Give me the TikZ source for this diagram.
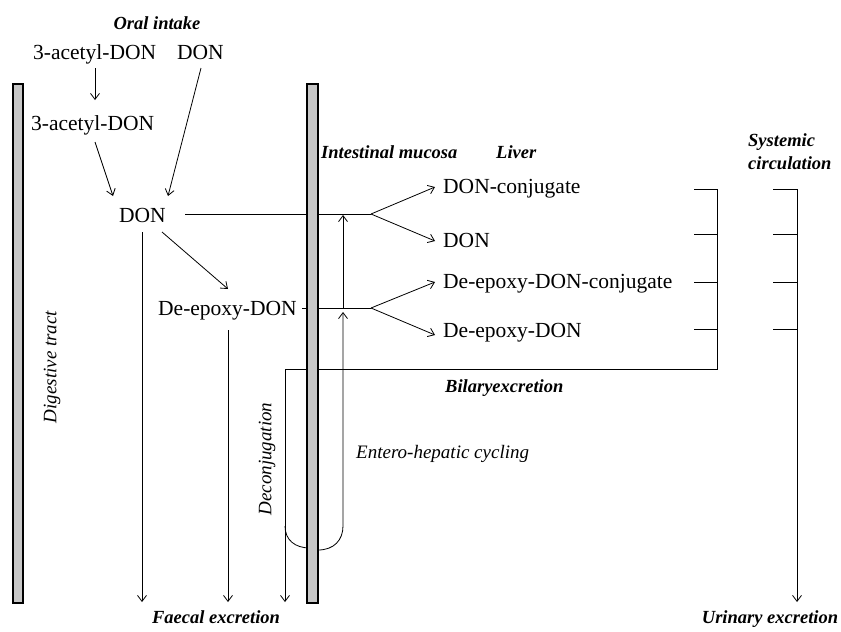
\documentclass[tikz,border=0pt]{standalone}
\usepackage{fontspec}
\setmainfont{Liberation Serif}
\usetikzlibrary{arrows.meta}
\begin{document}
\begin{tikzpicture}[x=1pt,y=-1pt,
  conn/.style={line width=0.8pt},
  arr/.style={conn,-{Straight Barb[length=6pt,width=9pt]}},
  bar/.style={fill=black!22,draw=black,line width=1.8pt},
  chem/.style={inner sep=0pt,font=\fontsize{21.5}{24}\selectfont,text height=14pt,text depth=0pt,anchor=west},
  lab/.style={inner sep=0pt,font=\fontsize{18.5}{21}\selectfont\bfseries\itshape,text height=12.5pt,text depth=0pt},
  ital/.style={inner sep=0pt,font=\fontsize{19}{22}\selectfont\itshape,text height=12.5pt,text depth=0pt}]
\useasboundingbox (0,0) rectangle (841,632);

% text nodes
\node[lab] (oral) at (157,23) {Oral intake};
\node[chem] (acA) at (33,52) {3-acetyl-DON};
\node[chem] (donA) at (177,52) {DON};
\node[chem] (acB) at (31,123) {3-acetyl-DON};
\node[chem] (donB) at (119,215) {DON};
\node[chem] (dep) at (158,308) {De-epoxy-DON};
\node[lab,anchor=west] (mucosa) at (321,152) {Intestinal mucosa};
\node[lab,anchor=west] (liver) at (496,152) {Liver};
\node[lab,anchor=west] (sys1) at (748,140) {Systemic};
\node[lab,anchor=west] (sys2) at (748,163) {circulation};
\node[chem] (donconj) at (443,186) {DON-conjugate};
\node[chem] (don2) at (443,240) {DON};
\node[chem] (depconj) at (443,281) {De-epoxy-DON-conjugate};
\node[chem] (dep2) at (443,330) {De-epoxy-DON};
\node[lab,anchor=west] (bilary) at (445,386) {Bilaryexcretion};
\node[ital,anchor=west] (entero) at (356,452) {Entero-hepatic cycling};
\node[ital,rotate=90] (deconj) at (265,459) {Deconjugation};
\node[ital,rotate=90] (digest) at (50,367) {Digestive tract};
\node[lab] (faecal) at (216,617) {Faecal excretion};
\node[lab] (urinary) at (770,617) {Urinary excretion};

% coordinates
\coordinate (lv1) at (371,214);
\coordinate (lv2) at (371,308);
\coordinate (b1) at (717,189);
\coordinate (b1e) at (717,369);
\coordinate (b2) at (797,189);
\coordinate (bl) at (285,369);
\coordinate (faeA) at (142,602);
\coordinate (faeB) at (228,602);
\coordinate (faeC) at (285,602);
\coordinate (uri) at (797,602);
\coordinate (cyc) at (343,526);
\coordinate (cycL) at (285,526);

% upper arrows
\draw[arr] (95,68) -- (95,100);
\draw[arr] (95,142) -- (113,196);
\draw[arr] (201,68) -- (168,196);
\draw[arr] (162,232) -- (228,289);

% to intestinal mucosa / liver
\draw[conn] (185,214) -- (lv1);
\draw[conn] (302,308) -- (lv2);
\draw[arr] (lv1) -- (435,187);
\draw[arr] (lv1) -- (435,241);
\draw[arr] (lv2) -- (435,282);
\draw[arr] (lv2) -- (435,335);

% entero-hepatic cycle
\draw[arr] (343,308) -- (343,215);
\draw[arr] (318,550) .. controls (334,550) and (343,540) .. (cyc) -- (343,312);
\draw[conn] (cycL) .. controls (285,540) and (295,548) .. (310,548);

% faecal arrows
\draw[arr] (142,232) -- (faeA);
\draw[arr] (228,330) -- (faeB);

% bilary excretion and brackets
\draw[conn] (b1) -- (b1e) -- (bl);
\draw[arr] (bl) -- (faeC);
\foreach \yy in {189,234,282,329} {
  \draw[conn] (694,\yy) -- (717,\yy);
  \draw[conn] (773,\yy) -- (797,\yy);
}
\draw[arr] (b2) -- (uri);

% bars
\draw[bar] (13,84) rectangle (23,603);
\draw[bar] (307,84) rectangle (318,603);
\end{tikzpicture}
\end{document}
